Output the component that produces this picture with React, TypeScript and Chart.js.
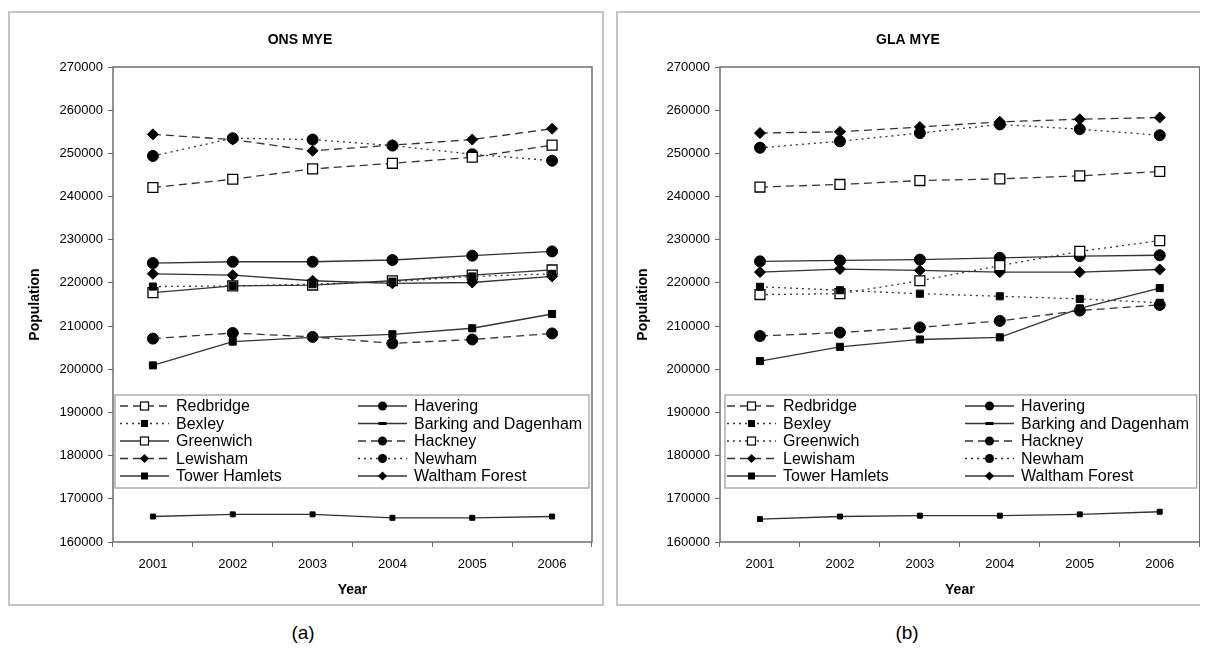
import React, { useEffect, useRef } from "react";
import { Chart, registerables } from "chart.js";

Chart.register(...registerables);

const FONT = "'Liberation Sans', Arial, sans-serif";

// ---------- data ----------
const years = ["2001", "2002", "2003", "2004", "2005", "2006"];
const yMin = 160000;
const yMax = 270000;
const yStep = 10000;

const boroughs = [
  "Redbridge",
  "Bexley",
  "Greenwich",
  "Lewisham",
  "Tower Hamlets",
  "Havering",
  "Barking and Dagenham",
  "Hackney",
  "Newham",
  "Waltham Forest",
];

// ONS MYE
const onsRedbridge = [242100, 244000, 246400, 247700, 249100, 251900];
const onsBexley = [219150, 219300, 219700, 220300, 221500, 222100];
const onsGreenwich = [217750, 219300, 219500, 220500, 221800, 223000];
const onsLewisham = [254400, 253200, 250600, 251900, 253200, 255700];
const onsTowerHamlets = [200900, 206400, 207400, 208100, 209500, 212800];
const onsHavering = [224600, 224900, 224900, 225300, 226300, 227300];
const onsBarking = [165900, 166400, 166400, 165600, 165600, 165900];
const onsHackney = [207100, 208400, 207500, 206000, 206900, 208300];
const onsNewham = [249400, 253500, 253200, 251800, 249800, 248300];
const onsWaltham = [222100, 221800, 220500, 219900, 220100, 221500];

// GLA MYE
const glaRedbridge = [242200, 242800, 243700, 244100, 244800, 245800];
const glaBexley = [219100, 218300, 217500, 216900, 216300, 215400];
const glaGreenwich = [217300, 217500, 220500, 224000, 227300, 229800];
const glaLewisham = [254700, 255000, 256100, 257300, 257900, 258300];
const glaTowerHamlets = [201900, 205200, 206900, 207400, 214100, 218800];
const glaHavering = [225000, 225200, 225400, 225800, 226200, 226400];
const glaBarking = [165300, 165900, 166100, 166100, 166400, 167000];
const glaHackney = [207700, 208500, 209700, 211200, 213600, 214900];
const glaNewham = [251300, 252800, 254700, 256700, 255600, 254200];
const glaWaltham = [222500, 223200, 222900, 222500, 222500, 223100];

const onsSeries = [
  onsRedbridge, onsBexley, onsGreenwich, onsLewisham, onsTowerHamlets,
  onsHavering, onsBarking, onsHackney, onsNewham, onsWaltham,
];
const glaSeries = [
  glaRedbridge, glaBexley, glaGreenwich, glaLewisham, glaTowerHamlets,
  glaHavering, glaBarking, glaHackney, glaNewham, glaWaltham,
];

// ---------- styles ----------
type Marker = "openSquare" | "square" | "circle" | "diamond" | "bar";
type Sty = { dash: number[]; marker: Marker };

const DASH = [8, 5];
const DOT = [2, 4];
const SOLID: number[] = [];

const onsStyles: Sty[] = [
  { dash: DASH, marker: "openSquare" },
  { dash: DOT, marker: "square" },
  { dash: SOLID, marker: "openSquare" },
  { dash: DASH, marker: "diamond" },
  { dash: SOLID, marker: "square" },
  { dash: SOLID, marker: "circle" },
  { dash: SOLID, marker: "bar" },
  { dash: DASH, marker: "circle" },
  { dash: DOT, marker: "circle" },
  { dash: SOLID, marker: "diamond" },
];
const glaStyles: Sty[] = onsStyles.map((s, i) =>
  i === 2 ? { dash: DOT, marker: "openSquare" as Marker } : s
);

function pointProps(m: Marker) {
  switch (m) {
    case "openSquare":
      return { pointStyle: "rect", pointRadius: 7, pointBackgroundColor: "#fff", pointBorderWidth: 1.3 };
    case "square":
      return { pointStyle: "rect", pointRadius: 5, pointBackgroundColor: "#000", pointBorderWidth: 1 };
    case "circle":
      return { pointStyle: "circle", pointRadius: 5.5, pointBackgroundColor: "#000", pointBorderWidth: 1 };
    case "diamond":
      return { pointStyle: "rectRot", pointRadius: 5.5, pointBackgroundColor: "#000", pointBorderWidth: 1 };
    default:
      return { pointStyle: "rect", pointRadius: 3.5, pointBackgroundColor: "#000", pointBorderWidth: 1 };
  }
}

function drawMarker(ctx: CanvasRenderingContext2D, m: Marker, x: number, y: number) {
  ctx.save();
  ctx.setLineDash([]);
  ctx.lineWidth = 1.2;
  ctx.strokeStyle = "#000";
  ctx.fillStyle = "#000";
  if (m === "openSquare") {
    ctx.fillStyle = "#fff";
    ctx.fillRect(x - 4, y - 4, 8, 8);
    ctx.strokeRect(x - 4, y - 4, 8, 8);
  } else if (m === "square") {
    ctx.fillRect(x - 3.5, y - 3.5, 7, 7);
  } else if (m === "circle") {
    ctx.beginPath();
    ctx.arc(x, y, 4.5, 0, Math.PI * 2);
    ctx.fill();
  } else if (m === "diamond") {
    ctx.beginPath();
    ctx.moveTo(x, y - 4.5);
    ctx.lineTo(x + 4.5, y);
    ctx.lineTo(x, y + 4.5);
    ctx.lineTo(x - 4.5, y);
    ctx.closePath();
    ctx.fill();
  } else {
    ctx.fillRect(x - 4, y - 1.5, 8, 3);
  }
  ctx.restore();
}

type PanelProps = {
  title: string;
  series: number[][];
  styles: Sty[];
  left: number;
  width: number;
  plotLeft: number;
  rightPad: number;
  legendInset: number;
};

const PANEL_H = 595;

function Panel({ title, series, styles, left, width, plotLeft, rightPad, legendInset }: PanelProps) {
  const ref = useRef<HTMLCanvasElement>(null);

  useEffect(() => {
    const frame = {
      id: "frameAndLegend",
      beforeDraw(chart: any) {
        const { ctx, width: w, height: h } = chart;
        ctx.save();
        ctx.fillStyle = "#fff";
        ctx.fillRect(0, 0, w, h);
        ctx.strokeStyle = "#c4c4c4";
        ctx.lineWidth = 2;
        ctx.strokeRect(1, 1, w - 3, h - 2);
        ctx.restore();
      },
      afterDatasetsDraw(chart: any) {
        const { ctx, chartArea: a } = chart;
        ctx.save();
        // plot frame
        ctx.strokeStyle = "#6e6e6e";
        ctx.lineWidth = 1.5;
        ctx.setLineDash([]);
        ctx.strokeRect(a.left, a.top, a.right - a.left, a.bottom - a.top);

        // legend box
        const bx = a.left + legendInset;
        const by = a.top + 328;
        const bw = a.right - 3 - bx;
        const bh = 93;
        ctx.fillStyle = "#fff";
        ctx.fillRect(bx, by, bw, bh);
        ctx.strokeStyle = "#9a9a9a";
        ctx.lineWidth = 1.2;
        ctx.strokeRect(bx, by, bw, bh);

        ctx.font = `16px ${FONT}`;
        ctx.textBaseline = "middle";
        ctx.textAlign = "left";
        boroughs.forEach((name, i) => {
          const col = i < 5 ? 0 : 1;
          const row = i % 5;
          const y = by + 11 + row * 17.5;
          const x0 = a.left + (col === 0 ? 7 : 245);
          const sty = styles[i];
          ctx.strokeStyle = "#333";
          ctx.lineWidth = 1.3;
          ctx.setLineDash(sty.dash);
          ctx.beginPath();
          ctx.moveTo(x0, y);
          ctx.lineTo(x0 + 49, y);
          ctx.stroke();
          drawMarker(ctx, sty.marker, x0 + 24.5, y);
          ctx.setLineDash([]);
          ctx.fillStyle = "#000";
          ctx.fillText(name, x0 + 56, y + 1);
        });
        ctx.restore();
      },
    };

    const datasets = boroughs.map((name, i) => ({
      label: name,
      data: series[i],
      borderColor: "#333",
      borderWidth: 1.3,
      borderDash: styles[i].dash,
      pointBorderColor: "#000",
      fill: false,
      tension: 0,
      ...pointProps(styles[i].marker),
    }));

    const chart = new Chart(ref.current as HTMLCanvasElement, {
      type: "line",
      data: { labels: years, datasets: datasets as any },
      options: {
        responsive: false,
        animation: false,
        events: [],
        layout: { padding: { top: 0, right: rightPad, bottom: 0, left: 0 } },
        plugins: {
          legend: { display: false },
          tooltip: { enabled: false },
          title: {
            display: true,
            text: title,
            color: "#000",
            font: { family: FONT, size: 14, weight: "bold" },
            padding: { top: 20.6, bottom: 18.6 },
          },
        },
        scales: {
          x: {
            type: "category",
            offset: true,
            border: { display: false },
            grid: {
              offset: true,
              drawOnChartArea: false,
              drawTicks: true,
              tickLength: 5,
              color: "#666",
              lineWidth: 1,
            },
            ticks: {
              color: "#000",
              font: { family: FONT, size: 13 },
              padding: 10,
              maxRotation: 0,
              autoSkip: false,
            },
            title: {
              display: true,
              text: "Year",
              color: "#000",
              font: { family: FONT, size: 14, weight: "bold" },
              padding: { top: 0, bottom: 7 },
            },
            afterFit: (s: any) => {
              s.height = 64;
            },
          },
          y: {
            min: yMin,
            max: yMax,
            border: { display: false },
            grid: {
              drawOnChartArea: false,
              drawTicks: true,
              tickLength: 5,
              color: "#666",
              lineWidth: 1,
            },
            ticks: {
              stepSize: yStep,
              color: "#000",
              font: { family: FONT, size: 13 },
              padding: 5,
              callback: (v: any) => String(v),
            },
            title: {
              display: true,
              text: "Population",
              color: "#000",
              font: { family: FONT, size: 14, weight: "bold" },
              padding: { top: 19, bottom: 0 },
            },
            afterFit: (s: any) => {
              s.width = plotLeft;
            },
          },
        },
      } as any,
      plugins: [frame as any],
    });
    return () => chart.destroy();
  }, []);

  return (
    <canvas
      ref={ref}
      width={width}
      height={PANEL_H}
      style={{ position: "absolute", left, top: 3, width, height: PANEL_H }}
    />
  );
}

export default function App() {
  const capStyle: React.CSSProperties = {
    position: "absolute",
    top: 613,
    width: 60,
    textAlign: "center",
    fontFamily: FONT,
    fontSize: 19,
    lineHeight: "24px",
    color: "#000",
  };
  return (
    <div style={{ position: "relative", width: 1192, height: 640 }}>
      <Panel
        title="ONS MYE"
        series={onsSeries}
        styles={onsStyles}
        left={0}
        width={597}
        plotLeft={105}
        rightPad={13}
        legendInset={2}
      />
      <Panel
        title="GLA MYE"
        series={glaSeries}
        styles={glaStyles}
        left={608}
        width={592}
        plotLeft={104}
        rightPad={8}
        legendInset={5}
      />
      <div style={{ ...capStyle, left: 265 }}>(a)</div>
      <div style={{ ...capStyle, left: 869 }}>(b)</div>
    </div>
  );
}
